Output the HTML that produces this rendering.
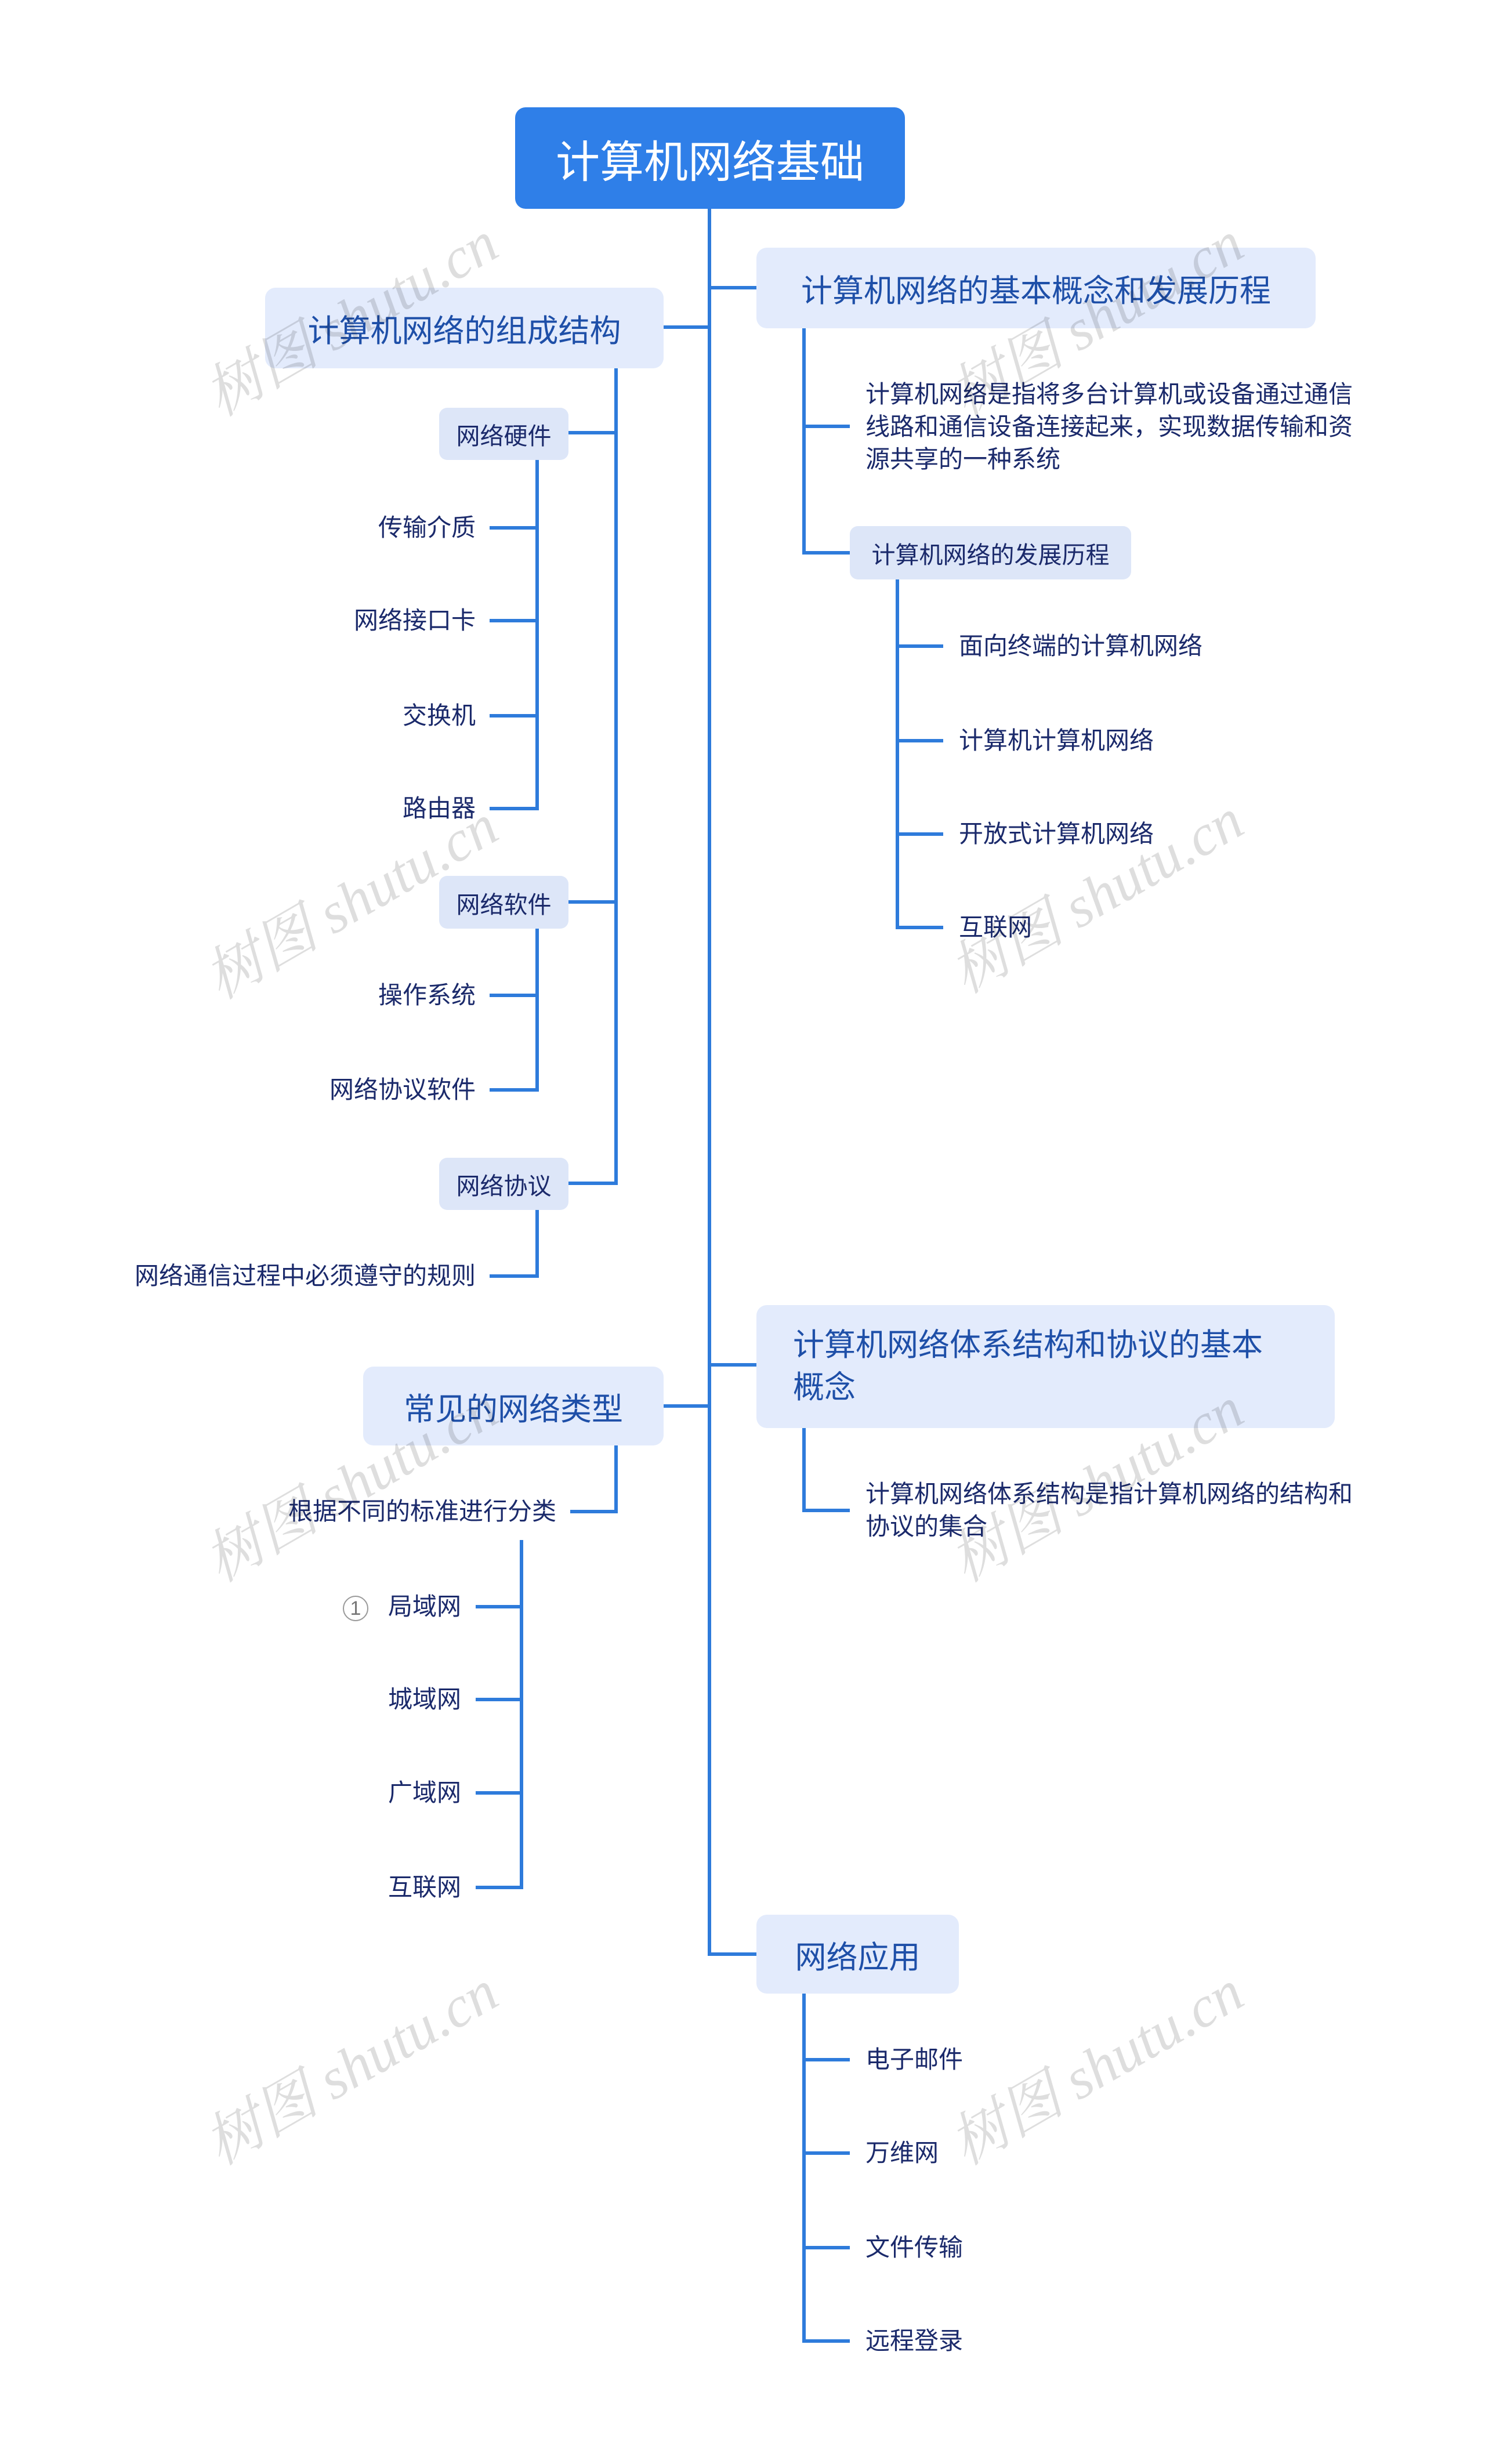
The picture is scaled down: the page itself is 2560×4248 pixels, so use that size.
<!DOCTYPE html>
<html><head><meta charset="utf-8"><style>
html,body{margin:0;padding:0;background:#fff;}
body{width:2560px;height:4248px;position:relative;overflow:hidden;font-family:"Liberation Sans","Noto Sans CJK SC",sans-serif;}
.b{position:absolute;display:flex;align-items:center;justify-content:center;box-sizing:border-box;}
.root{background:#2F7FE8;color:#fff;font-size:76px;border-radius:18px;}
.l1{background:#E3EBFC;color:#1E4FA8;font-size:54px;border-radius:18px;}
.l2{background:#DDE6F8;color:#1B2A6B;font-size:41px;border-radius:14px;}
.t{position:absolute;color:#1B2A6B;font-size:42px;white-space:nowrap;line-height:56px;}
.r{text-align:right;}
.wm{position:absolute;font-family:"Liberation Serif","Noto Serif CJK SC",serif;font-style:italic;font-size:100px;color:rgba(0,0,0,0.13);transform:rotate(-30deg);white-space:nowrap;transform-origin:center;}
</style></head><body>
<svg width="2560" height="4248" style="position:absolute;left:0;top:0" fill="none" stroke="#2E7BDB" stroke-width="6">
<path d="M1223 360V3369H1304M1223 496H1304M1223 564H1144M1223 2353H1304M1223 2424H1144"/>
<path d="M1386 566V953H1465M1386 735H1465"/>
<path d="M1547 999V1599H1626M1547 1114H1626M1547 1277H1626M1547 1438H1626"/>
<path d="M1062 635V2040H980M1062 746H980M1062 1555H980"/>
<path d="M926 793V1394H844M926 910H844M926 1070H844M926 1234H844"/>
<path d="M926 1601V1879H844M926 1716H844"/>
<path d="M926 2086V2200H844"/>
<path d="M1062 2492V2606H983"/>
<path d="M899 2655V3254H820M899 2770H820M899 2930H820M899 3091H820"/>
<path d="M1386 2462V2604H1465"/>
<path d="M1386 3437V4036H1465M1386 3551H1465M1386 3712H1465M1386 3875H1465"/>
</svg>

<div class="b root" style="left:888px;top:185px;width:672px;height:175px;">计算机网络基础</div>
<div class="b l1" style="left:1304px;top:427px;width:964px;height:139px;">计算机网络的基本概念和发展历程</div>
<div class="b l1" style="left:457px;top:496px;width:687px;height:139px;">计算机网络的组成结构</div>
<div class="b l1" style="left:1304px;top:2250px;width:997px;height:212px;justify-content:flex-start;padding-left:63px;line-height:73px;">计算机网络体系结构和协议的基本<br>概念</div>
<div class="b l1" style="left:626px;top:2356px;width:518px;height:136px;">常见的网络类型</div>
<div class="b l1" style="left:1304px;top:3301px;width:349px;height:136px;">网络应用</div>

<div class="b l2" style="left:757px;top:703px;width:223px;height:90px;">网络硬件</div>
<div class="b l2" style="left:757px;top:1510px;width:223px;height:91px;">网络软件</div>
<div class="b l2" style="left:757px;top:1996px;width:223px;height:90px;">网络协议</div>
<div class="b l2" style="left:1465px;top:907px;width:485px;height:92px;">计算机网络的发展历程</div>

<div class="t r" style="right:1740px;top:882px;">传输介质</div>
<div class="t r" style="right:1740px;top:1042px;">网络接口卡</div>
<div class="t r" style="right:1740px;top:1206px;">交换机</div>
<div class="t r" style="right:1740px;top:1366px;">路由器</div>
<div class="t r" style="right:1740px;top:1688px;">操作系统</div>
<div class="t r" style="right:1740px;top:1851px;">网络协议软件</div>
<div class="t r" style="right:1740px;top:2172px;">网络通信过程中必须遵守的规则</div>
<div class="t r" style="right:1601px;top:2578px;">根据不同的标准进行分类</div>
<div class="t r" style="right:1765px;top:2742px;"><span style="color:#777;font-size:34px;display:inline-block;width:40px;height:40px;border:2px solid #999;border-radius:50%;text-align:center;line-height:40px;vertical-align:middle;margin-right:34px;">1</span>局域网</div>
<div class="t r" style="right:1765px;top:2902px;">城域网</div>
<div class="t r" style="right:1765px;top:3063px;">广域网</div>
<div class="t r" style="right:1765px;top:3226px;">互联网</div>

<div class="t" style="left:1492px;top:652px;">计算机网络是指将多台计算机或设备通过通信<br>线路和通信设备连接起来，实现数据传输和资<br>源共享的一种系统</div>
<div class="t" style="left:1653px;top:1086px;">面向终端的计算机网络</div>
<div class="t" style="left:1653px;top:1249px;">计算机计算机网络</div>
<div class="t" style="left:1653px;top:1410px;">开放式计算机网络</div>
<div class="t" style="left:1653px;top:1571px;">互联网</div>
<div class="t" style="left:1492px;top:2548px;">计算机网络体系结构是指计算机网络的结构和<br>协议的集合</div>
<div class="t" style="left:1492px;top:3523px;">电子邮件</div>
<div class="t" style="left:1492px;top:3684px;">万维网</div>
<div class="t" style="left:1492px;top:3847px;">文件传输</div>
<div class="t" style="left:1492px;top:4008px;">远程登录</div>

<div class="wm" style="left:320px;top:470px;">树图 shutu.cn</div>
<div class="wm" style="left:1605px;top:470px;">树图 shutu.cn</div>
<div class="wm" style="left:320px;top:1475px;">树图 shutu.cn</div>
<div class="wm" style="left:1605px;top:1465px;">树图 shutu.cn</div>
<div class="wm" style="left:320px;top:2480px;">树图 shutu.cn</div>
<div class="wm" style="left:1605px;top:2480px;">树图 shutu.cn</div>
<div class="wm" style="left:320px;top:3485px;">树图 shutu.cn</div>
<div class="wm" style="left:1605px;top:3485px;">树图 shutu.cn</div>
</body></html>
